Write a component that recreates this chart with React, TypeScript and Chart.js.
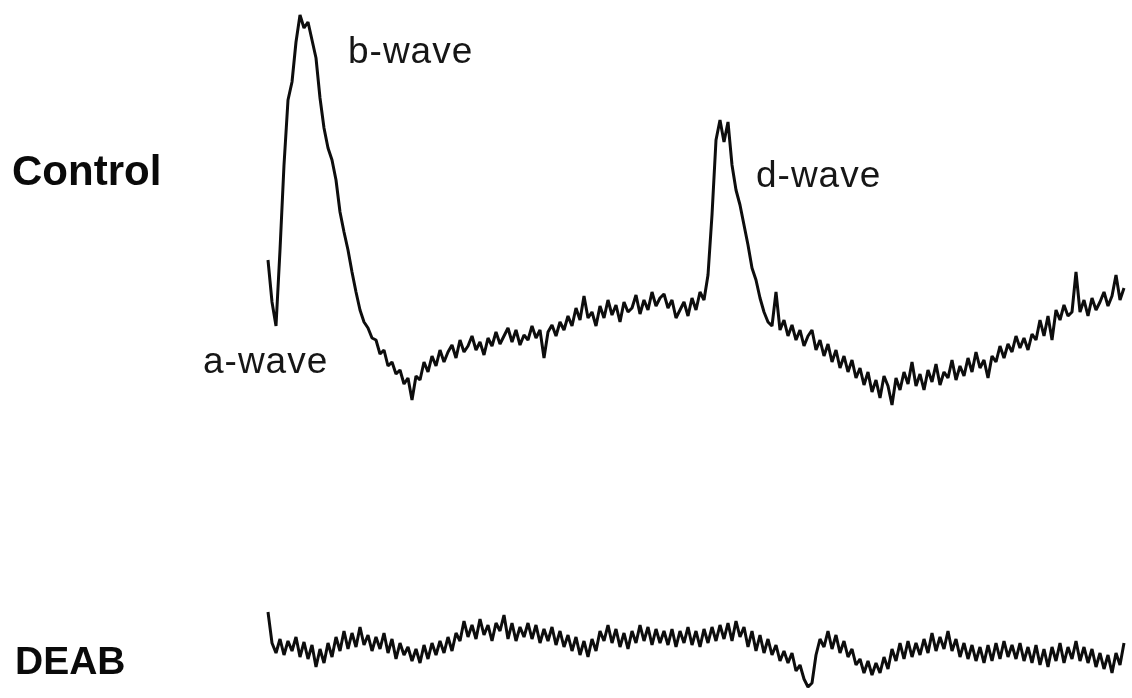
import React, { useEffect, useRef } from "react";
import { Chart, registerables } from "chart.js";

Chart.register(...registerables);

// Sampling interval of the recordings (ms)
const SAMPLE_MS = 8;

// Control ERG trace (µV), one value per sample
const controlTrace: number[] = [
  30, -12, -36, 40, 125, 190, 208, 248, 275, 262,
  268, 250, 232, 192, 162, 142, 130, 110, 78, 58,
  40, 18, -2, -20, -32, -38, -48, -50, -64, -60,
  -76, -72, -84, -80, -94, -88, -110, -86, -90, -72,
  -82, -66, -76, -60, -72, -62, -55, -68, -50, -62,
  -56, -46, -60, -52, -65, -48, -56, -42, -54, -46,
  -38, -52, -40, -55, -45, -50, -36, -48, -40, -68,
  -42, -35, -46, -32, -40, -26, -36, -18, -30, -6,
  -28, -22, -36, -16, -28, -10, -25, -15, -32, -12,
  -22, -18, -5, -24, -10, -20, -2, -16, -8, -4,
  -18, -10, -28, -20, -12, -26, -8, -20, -2, -10,
  15, 75, 150, 170, 148, 168, 125, 100, 85, 65,
  45, 22, 10, -8, -22, -32, -36, -2, -40, -30,
  -46, -35, -50, -40, -56, -46, -40, -60, -50, -66,
  -54, -72, -60, -78, -66, -82, -70, -88, -78, -95,
  -82, -102, -90, -108, -86, -96, -115, -88, -100, -82,
  -94, -72, -96, -84, -100, -80, -92, -74, -95, -82,
  -88, -70, -90, -76, -86, -68, -82, -62, -78, -70,
  -88, -66, -72, -56, -68, -54, -62, -46, -58, -48,
  -60, -44, -50, -30, -46, -26, -50, -20, -30, -15,
  -26, -22, 18, -22, -10, -26, -8, -20, -12, -2,
  -16, -6, 15, -10, 2,
];

// DEAB-treated ERG trace (µV), one value per sample
const deabTrace: number[] = [
  33, 2, -8, 6, -10, 4, -6, 8, -12, 3,
  -14, 0, -22, -4, -18, 2, -12, 8, -6, 14,
  -4, 12, -2, 18, 0, 10, -6, 8, -4, 12,
  -8, 6, -14, 2, -10, -2, -16, -4, -18, 0,
  -14, 2, -10, 4, -8, 8, -6, 12, 4, 24,
  8, 20, 6, 26, 10, 20, 4, 22, 14, 30,
  6, 22, 4, 18, 8, 22, 6, 20, 2, 16,
  4, 18, 0, 14, -2, 10, -6, 8, -10, 4,
  -12, 6, -6, 14, 4, 20, 2, 16, -2, 12,
  -4, 14, 2, 20, 4, 18, 0, 16, 2, 14,
  0, 16, -2, 14, 2, 18, 0, 14, -2, 16,
  2, 18, 4, 20, 6, 22, 4, 24, 8, 18,
  -2, 14, -6, 10, -8, 6, -10, 0, -16, -6,
  -18, -8, -26, -20, -34, -42, -38, -10, 6, -2,
  14, -4, 10, -8, 4, -12, -4, -20, -14, -28,
  -16, -30, -18, -28, -12, -24, -4, -16, 2, -14,
  4, -12, 2, -10, 6, -8, 12, -6, 8, -4,
  14, -6, 6, -12, 2, -14, 0, -16, -2, -18,
  0, -16, 2, -14, 4, -12, 0, -14, 2, -16,
  -2, -18, 0, -20, -4, -22, -2, -16, 2, -18,
  -2, -14, 4, -16, -2, -18, -4, -22, -8, -24,
  -10, -28, -8, -20, 2,
];

// Text labels
const rowLabels = ["Control", "DEAB"];
const waveLabels = ["a-wave", "b-wave", "d-wave"];

const X_MIN = -536;
const X_MAX = 1728;

function toPoints(values: number[]) {
  return values.map((v, i) => ({ x: i * SAMPLE_MS, y: v }));
}

function makeChart(canvas: HTMLCanvasElement, values: number[], yMin: number, yMax: number) {
  return new Chart(canvas, {
    type: "line",
    data: {
      datasets: [
        {
          data: toPoints(values),
          borderColor: "#0d0d0d",
          borderWidth: 3,
          pointRadius: 0,
          tension: 0,
          borderJoinStyle: "bevel",
          fill: false,
        },
      ],
    },
    options: {
      animation: false,
      responsive: false,
      devicePixelRatio: 1,
      layout: { padding: 0 },
      plugins: { legend: { display: false }, tooltip: { enabled: false } },
      events: [],
      scales: {
        x: { type: "linear", min: X_MIN, max: X_MAX, display: false },
        y: { type: "linear", min: yMin, max: yMax, display: false },
      },
    },
  });
}

const labelBase: React.CSSProperties = {
  position: "absolute",
  fontFamily: '"Liberation Sans", Arial, sans-serif',
  lineHeight: 1,
  whiteSpace: "nowrap",
  color: "#161616",
};

export default function App() {
  const ctrlRef = useRef<HTMLCanvasElement>(null);
  const deabRef = useRef<HTMLCanvasElement>(null);

  useEffect(() => {
    const c1 = makeChart(ctrlRef.current!, controlTrace, -150, 290);
    const c2 = makeChart(deabRef.current!, deabTrace, -53, 85);
    return () => {
      c1.destroy();
      c2.destroy();
    };
  }, []);

  return (
    <div
      style={{
        position: "fixed",
        left: 0,
        top: 0,
        width: 1132,
        height: 698,
        background: "#ffffff",
        overflow: "hidden",
      }}
    >
      <canvas
        ref={ctrlRef}
        width={1132}
        height={440}
        style={{ position: "absolute", left: 0, top: 0, width: 1132, height: 440 }}
      />
      <canvas
        ref={deabRef}
        width={1132}
        height={138}
        style={{ position: "absolute", left: 0, top: 560, width: 1132, height: 138 }}
      />
      <div style={{ ...labelBase, left: 12, top: 150, fontSize: 42, fontWeight: "bold", color: "#0a0a0a" }}>
        {rowLabels[0]}
      </div>
      <div style={{ ...labelBase, left: 15, top: 641, fontSize: 39, fontWeight: "bold", color: "#0a0a0a" }}>
        {rowLabels[1]}
      </div>
      <div style={{ ...labelBase, left: 203, top: 342, fontSize: 37, letterSpacing: 1 }}>{waveLabels[0]}</div>
      <div style={{ ...labelBase, left: 348, top: 32, fontSize: 37, letterSpacing: 1 }}>{waveLabels[1]}</div>
      <div style={{ ...labelBase, left: 756, top: 156, fontSize: 37, letterSpacing: 1 }}>{waveLabels[2]}</div>
    </div>
  );
}
